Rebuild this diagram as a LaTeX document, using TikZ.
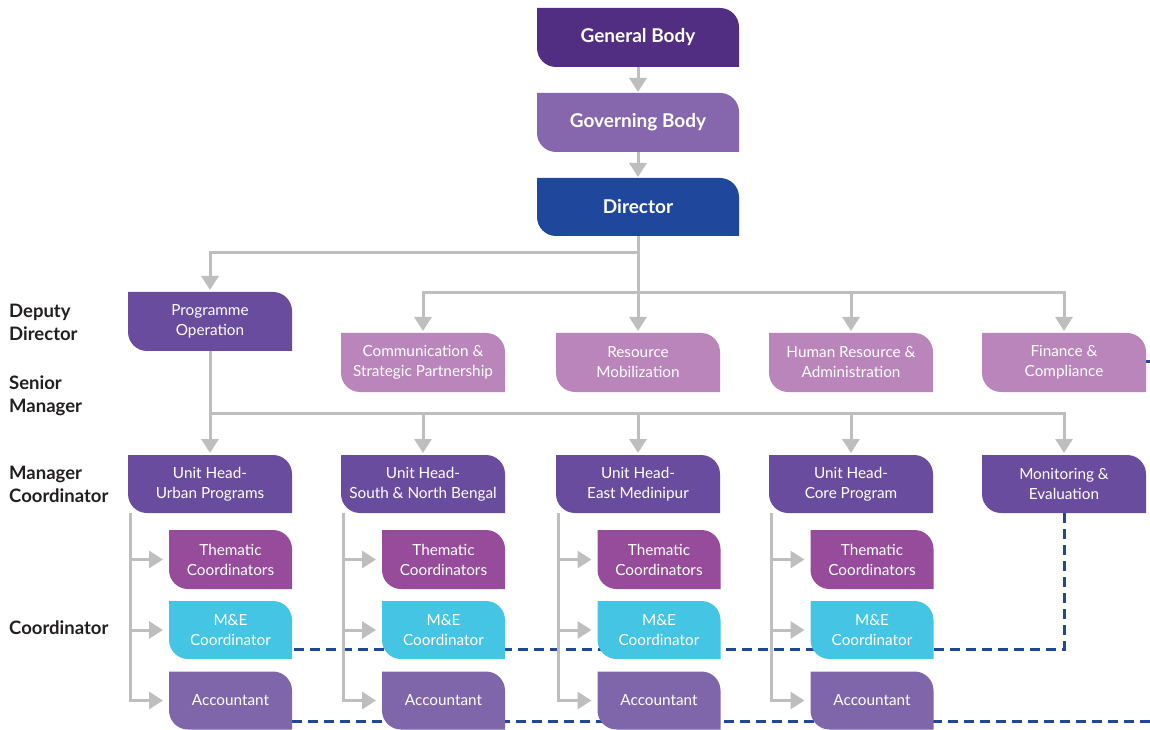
\documentclass[tikz,border=0pt]{standalone}
\usepackage{fontspec}
\setmainfont{Lato}
\usetikzlibrary{arrows.meta,calc}
\definecolor{cGB}{HTML}{512E82}
\definecolor{cGov}{HTML}{8666AC}
\definecolor{cDir}{HTML}{1F479B}
\definecolor{cMgr}{HTML}{6A4C9E}
\definecolor{cDep}{HTML}{BA85BB}
\definecolor{cThe}{HTML}{974C9B}
\definecolor{cME}{HTML}{44C5E3}
\definecolor{cAcc}{HTML}{7F66AB}
\definecolor{cGray}{HTML}{BEBEBE}
\definecolor{cDash}{HTML}{22479A}
\definecolor{cLab}{HTML}{231F20}
\pgfdeclarelayer{back}
\pgfdeclarelayer{background}
\pgfsetlayers{back,background,main}
\newlength\R
\setlength\R{19pt}
% #1 name, #2 cx, #3 cy (image px), #4 w, #5 h, #6 colour, #7 style, #8 text
\newcommand\obox[8]{%
  \node[#7, minimum width=#4pt, minimum height=#5pt] (#1) at (#2,729-#3) {#8};
  \begin{pgfonlayer}{background}
    \fill[#6] (#1.north west) -- ([xshift=-\R]#1.north east)
      arc[start angle=90,end angle=0,radius=\R] -- (#1.south east)
      -- ([xshift=\R]#1.south west)
      arc[start angle=270,end angle=180,radius=\R] -- cycle;
  \end{pgfonlayer}}
\tikzset{
  obase/.style={inner sep=0pt, outer sep=0pt, text=white, align=center},
  bigbox/.style={obase, font=\fontsize{19}{22}\selectfont\bfseries},
  midbox/.style={obase, font=\fontsize{15.3}{20}\selectfont},
  gline/.style={draw=cGray, line width=3pt},
  garrow/.style={draw=cGray, line width=3pt, -{Triangle[width=17pt,length=14pt,fill=cGray]}},
  bdash/.style={draw=cDash, line width=3pt, dash pattern=on 10pt off 6pt},
  lev/.style={anchor=west, align=left, text=cLab, font=\fontsize{18.5}{23}\selectfont\bfseries, inner sep=0pt},
}
\begin{document}
\begin{tikzpicture}[x=1pt,y=1pt]
\useasboundingbox (0,0) rectangle (1150,729);
% top chain
\obox{GB}{638}{37.5}{202}{59}{cGB}{bigbox}{General Body}
\obox{GovB}{638}{122.5}{202}{59}{cGov}{bigbox}{Governing Body}
\obox{Dir}{638}{207}{202}{58}{cDir}{bigbox}{Director}
% deputy / senior row
\obox{PO}{210}{321.5}{164}{59}{cMgr}{midbox}{Programme\\Operation}
\obox{Comm}{423}{362.5}{164}{59}{cDep}{midbox}{Communication \&\\Strategic Partnership}
\obox{RM}{638}{362.5}{164}{59}{cDep}{midbox}{Resource\\Mobilization}
\obox{HR}{851}{362.5}{164}{59}{cDep}{midbox}{Human Resource \&\\Administration}
\obox{FC}{1064}{362.5}{164}{59}{cDep}{midbox}{Finance \&\\Compliance}
% manager row
\obox{UHa}{210}{484}{164}{58}{cMgr}{midbox}{Unit Head-\\Urban Programs}
\obox{UHb}{423}{484}{164}{58}{cMgr}{midbox}{Unit Head-\\South \& North Bengal}
\obox{UHc}{638}{484}{164}{58}{cMgr}{midbox}{Unit Head-\\East Medinipur}
\obox{UHd}{851}{484}{164}{58}{cMgr}{midbox}{Unit Head-\\Core Program}
\obox{ME}{1064}{484}{164}{58}{cMgr}{midbox}{Monitoring \&\\Evaluation}
% coordinator boxes
\foreach \n/\cx in {a/230.5,b/443.5,c/659,d/872}{
  \obox{Th\n}{\cx}{559.5}{123}{59}{cThe}{midbox}{Thematic\\Coordinators}
  \obox{MC\n}{\cx}{630}{123}{58}{cME}{midbox}{M\&E\\Coordinator}
  \obox{Ac\n}{\cx}{700.5}{123}{58}{cAcc}{midbox}{Accountant}
}
% level labels
\node[lev] (L1) at (9,729-322) {Deputy\\Director};
\node[lev] (L2) at (9,729-396) {Senior\\Manager};
\node[lev] (L3) at (9,729-484) {Manager\\Coordinator};
\node[lev] (L4) at (9,729-628) {Coordinator};
% gray connectors
\draw[garrow] (GB.south) -- ([yshift=1pt]GovB.north);
\draw[garrow] (GovB.south) -- ([yshift=1pt]Dir.north);
\coordinate (d1) at (638,729-253);
\coordinate (d2) at (638,729-293);
\draw[gline] (Dir.south) -- (d2);
\draw[garrow] (d1) -| ([yshift=2pt]PO.north);
\draw[gline, line cap=rect] (Comm.north |- d2) -- (FC.north |- d2);
\foreach \b in {Comm,RM,HR,FC}{
  \draw[garrow] (\b.north |- d2) -- ([yshift=2pt]\b.north);
}
\coordinate (p1) at (210,729-413);
\draw[gline] (PO.south) -- (p1);
\draw[gline, line cap=rect] (p1) -- (ME.north |- p1);
\foreach \b in {UHa,UHb,UHc,UHd,ME}{
  \draw[garrow] (\b.north |- p1) -- ([yshift=2pt]\b.north);
}
\foreach \n in {a,b,c,d}{
  \coordinate (t\n) at ([xshift=2pt]UH\n.south west);
  \draw[gline] (t\n) -- ([yshift=-1.5pt]t\n |- Ac\n.west);
  \draw[garrow, shorten >=6pt] ([xshift=-1.5pt]t\n |- Th\n.west) -- (Th\n.west);
  \draw[garrow, shorten >=6pt] ([xshift=-1.5pt]t\n |- MC\n.west) -- (MC\n.west);
  \draw[garrow, shorten >=6pt] ([xshift=-1.5pt]t\n |- Ac\n.west) -- (Ac\n.west);
}
% dashed reporting lines
\coordinate (e1) at (1150,729-362);
\coordinate (m1) at (1064,729-649);
\coordinate (a1) at (1150,729-721);
\begin{pgfonlayer}{back}
  \draw[bdash] (FC.east |- e1) -- (e1);
  \draw[bdash] (ME.south) -- (m1) -- (MCa.east |- m1);
  \draw[bdash] (Aca.east |- a1) -- (a1);
\end{pgfonlayer}
\end{tikzpicture}
\end{document}
